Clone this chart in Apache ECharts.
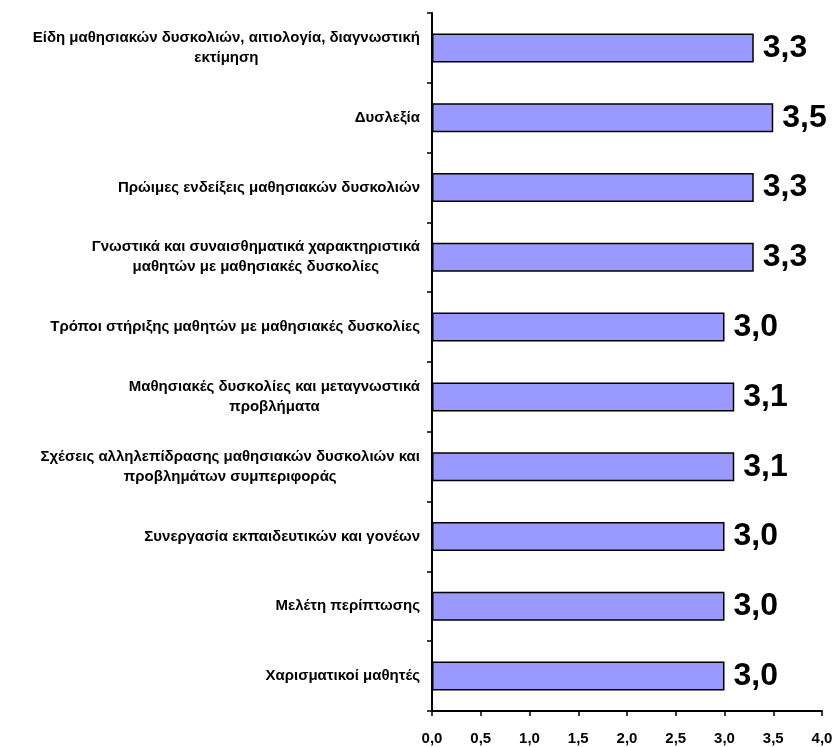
<!DOCTYPE html>
<html>
<head>
<meta charset="utf-8">
<script src="https://cdn.jsdelivr.net/npm/echarts@6/dist/echarts.min.js"></script>
<style>html,body{margin:0;padding:0;background:#fff;}#c{width:836px;height:747px;}</style>
</head>
<body>
<div id="c"></div>
<script>
const categories = [
  "Είδη μαθησιακών δυσκολιών, αιτιολογία, διαγνωστική\nεκτίμηση",
  "Δυσλεξία",
  "Πρώιμες ενδείξεις μαθησιακών δυσκολιών",
  "Γνωστικά και συναισθηματικά χαρακτηριστικά\nμαθητών με μαθησιακές δυσκολίες",
  "Τρόποι στήριξης μαθητών με μαθησιακές δυσκολίες",
  "Μαθησιακές δυσκολίες και μεταγνωστικά\nπροβλήματα",
  "Σχέσεις αλληλεπίδρασης μαθησιακών δυσκολιών και\nπροβλημάτων συμπεριφοράς",
  "Συνεργασία εκπαιδευτικών και γονέων",
  "Μελέτη περίπτωσης",
  "Χαρισματικοί μαθητές"
];
const values = [3.3, 3.5, 3.3, 3.3, 3.0, 3.1, 3.1, 3.0, 3.0, 3.0];
const xMin = 0, xMax = 4, xStep = 0.5;

const fmt = v => Number(v).toFixed(1).replace('.', ',');
const chart = echarts.init(document.getElementById('c'), null, {renderer: 'canvas'});
chart.setOption({
  animation: false,
  backgroundColor: '#fff',
  textStyle: {fontFamily: 'Liberation Sans, Arial, sans-serif'},
  grid: {left: 432, right: 14, top: 13, bottom: 36, containLabel: false},
  xAxis: {
    type: 'value', min: xMin, max: xMax, interval: xStep,
    axisLine: {show: true, lineStyle: {color: '#000', width: 2}},
    axisTick: {show: true, length: 5, lineStyle: {color: '#000', width: 1.5}},
    splitLine: {show: false},
    axisLabel: {formatter: fmt, color: '#000', fontWeight: 'bold', fontSize: 15, margin: 20, fontFamily: 'Liberation Sans'}
  },
  yAxis: {
    type: 'category', data: categories, inverse: true,
    axisLine: {show: true, lineStyle: {color: '#000', width: 2}},
    axisTick: {show: true, length: 5, lineStyle: {color: '#000', width: 1.5}},
    axisLabel: {
      color: '#000', margin: 12, interval: 0,
      formatter: v => v.split('\n').map(l => '{c|' + l + '}').join('\n'),
      rich: {c: {align: 'center', fontWeight: 'bold', fontSize: 15, lineHeight: 20, fontFamily: 'Liberation Sans', color: '#000'}}
    }
  },
  series: [{
    type: 'bar', data: values, barWidth: 29,
    itemStyle: {color: '#9999FF', borderColor: '#000', borderWidth: 1.5},
    label: {show: true, position: 'right', distance: 9, formatter: p => fmt(p.value),
      color: '#000', fontWeight: 'bold', fontSize: 32, fontFamily: 'Liberation Sans'}
  }]
});
</script>
</body>
</html>
